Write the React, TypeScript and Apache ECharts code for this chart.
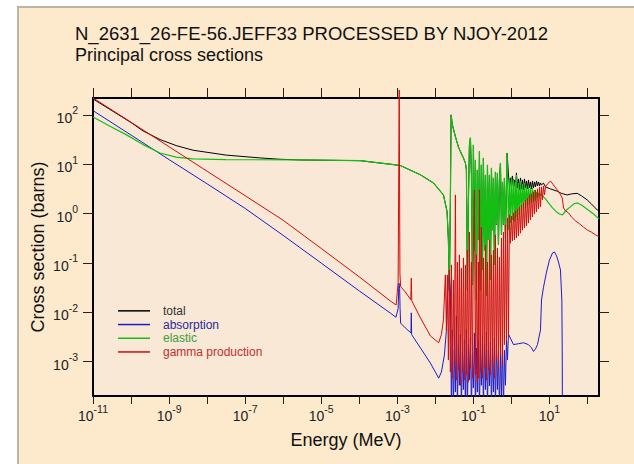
import React, { useEffect, useRef } from 'react';
import * as echarts from 'echarts';

const FONT = '"Liberation Sans", Arial, Helvetica, sans-serif';

const titleText = 'N_2631_26-FE-56.JEFF33 PROCESSED BY NJOY-2012';
const subtitleText = 'Principal cross sections';
const xName = 'Energy (MeV)';
const yName = 'Cross section (barns)';

const xRange = [1e-11, 200];
const yRange = [2e-4, 220];
const xTickExponents = [-11, -10, -9, -8, -7, -6, -5, -4, -3, -2, -1, 0, 1, 2];
const xLabelExponents = [-11, -9, -7, -5, -3, -1, 1];
const yTickExponents = [-3, -2, -1, 0, 1, 2];

const seriesNames = ['total', 'absorption', 'elastic', 'gamma production'];
const seriesColors = ['#000000', '#1c1cc8', '#12c012', '#d00c0c'];
const legendTextColors = ['#333333', '#2a2a9a', '#3aa03a', '#c03030'];

const totalLow: [number, number][] = [
  [1e-11, 211], [1e-10, 70], [2.07e-10, 47.3], [5.8e-10, 31.6], [1.53e-9, 23.9], [4.28e-9, 19.2],
  [3.16e-8, 15.3], [2.5e-7, 13.4], [8.3e-7, 12.6], [2.8e-6, 12.2], [1.06e-4, 11.8], [8e-4, 9.8],
  [1.2e-3, 9.4], [4.03e-3, 6.1], [8.86e-3, 4.18], [0.0163, 2.38],
];

const totalHigh: [number, number][] = [
  [0.834, 6.07], [0.886, 3.63], [0.941, 5.27], [1.0, 3.31], [1.06, 5.79], [1.13, 3.46], [1.2, 4.8],
  [1.27, 3.16], [1.35, 6.66], [1.44, 3.31], [1.53, 5.03], [1.62, 3.01], [1.73, 5.27], [1.83, 3.16],
  [1.95, 4.8], [2.07, 3.01], [2.2, 5.03], [2.34, 3.31], [2.48, 4.58], [2.64, 3.16], [2.8, 4.8],
  [2.98, 3.31], [3.16, 4.37], [3.36, 3.16], [3.57, 4.58], [3.79, 3.31], [4.03, 4.37], [4.28, 3.46],
  [4.55, 4.58], [4.83, 3.63], [5.14, 4.37], [5.46, 3.63], [5.8, 4.18], [6.16, 3.8], [6.95, 4.15],
  [7.85, 3.46], [10.6, 3.16], [16.0, 2.83], [20.7, 2.56], [29.2, 2.38], [37.9, 2.5], [53.5, 2.57],
  [69.5, 2.28], [98, 1.89], [127, 1.56], [180, 1.18], [200, 1.13],
];

const elastic: [number, number][] = [
  [1e-11, 91], [2.8e-11, 59], [7.4e-11, 39.8], [2.07e-10, 25], [5.8e-10, 16.9], [1.53e-9, 13.9],
  [4.28e-9, 12.8], [3.16e-8, 12.4], [2.8e-6, 12.2], [1.06e-4, 11.8], [8e-4, 9.8], [1.2e-3, 9.4],
  [4.03e-3, 6.1], [8.86e-3, 4.18], [0.0163, 2.38], [0.0203, 1.09], [0.022, 0.29], [0.0233, 0.028],
  [0.0248, 1.9], [0.0259, 100], [0.028, 62.7], [0.0336, 36.3], [0.0403, 22.4], [0.0455, 18.0],
  [0.0546, 13.4], [0.0616, 10.6], [0.0654, 7.66], [0.0695, 0.028], [0.0739, 1.89], [0.0785, 24.6],
  [0.0834, 34.2], [0.0886, 6.07], [0.0941, 0.036], [0.1, 24.6], [0.106, 0.18], [0.113, 12.2],
  [0.12, 0.0177], [0.127, 7.66], [0.135, 0.29], [0.144, 18.0], [0.153, 0.028], [0.162, 9.68],
  [0.173, 0.072], [0.183, 13.4], [0.195, 0.18], [0.207, 6.07], [0.22, 0.022], [0.234, 9.68],
  [0.248, 0.29], [0.264, 6.07], [0.28, 0.045], [0.298, 8.41], [0.316, 0.46], [0.336, 5.27],
  [0.357, 0.091], [0.379, 6.98], [0.403, 0.59], [0.428, 6.66], [0.455, 0.23], [0.483, 4.8],
  [0.514, 10.6], [0.546, 0.37], [0.58, 4.37], [0.616, 0.59], [0.654, 5.27], [0.695, 0.32],
  [0.77, 16.9], [0.834, 0.46], [0.886, 4.8], [0.941, 0.64], [1.0, 5.52], [1.06, 0.74], [1.13, 5.03],
  [1.2, 0.68], [1.27, 4.37], [1.31, 0.85], [1.35, 6.07], [1.44, 0.74], [1.53, 4.18], [1.62, 0.94],
  [1.73, 4.58], [1.83, 1.03], [1.95, 3.98], [2.07, 1.18], [2.2, 4.18], [2.34, 1.3], [2.48, 3.63],
  [2.64, 1.43], [2.8, 3.63], [2.98, 1.49], [3.16, 3.31], [3.36, 1.64], [3.57, 3.31], [3.79, 1.72],
  [4.03, 3.01], [4.28, 1.8], [4.55, 2.74], [4.83, 2.07], [5.14, 2.62], [5.46, 2.28], [5.8, 2.5],
  [6.54, 2.28], [7.85, 1.98], [9.41, 1.64], [12.0, 1.3], [15.3, 1.08], [18.3, 0.98], [22.0, 0.94],
  [28.0, 1.18], [35.7, 1.38], [45.5, 1.6], [54.6, 1.64], [69.5, 1.49], [88.6, 1.3], [113, 1.13],
  [144, 0.98], [200, 0.78],
];

const absorption: [number, number][] = [
  [1e-11, 122], [1e-10, 39], [1e-9, 12.4], [1e-8, 4.0], [1e-7, 1.27], [1e-6, 0.36], [1e-5, 0.099],
  [1e-4, 0.027], [6.55e-4, 0.0096], [9.2e-4, 0.0079], [1.05e-3, 0.012], [1.1e-3, 0.039],
  [1.15e-3, 0.03], [1.18e-3, 0.012], [1.22e-3, 0.006], [1.62e-3, 0.0048], [2.28e-3, 0.0038],
  [2.33e-3, 0.0097], [2.38e-3, 0.0035], [4.03e-3, 0.0019], [7.38e-3, 0.00093], [0.01, 0.00061],
  [0.0122, 0.00046], [0.0144, 0.00061], [0.0173, 0.00136], [0.0195, 0.0044], [0.0207, 0.0177],
  [0.022, 0.045], [0.0233, 0.062], [0.0248, 0.028], [0.0264, 1e-4], [0.028, 0.0044], [0.0298, 1e-4],
  [0.0316, 0.0017], [0.0336, 0.00024], [0.0357, 0.0084], [0.0379, 1e-4], [0.0403, 0.0022],
  [0.0428, 0.00033], [0.0455, 0.0035], [0.0483, 1e-4], [0.0514, 0.00156], [0.0546, 0.00027],
  [0.058, 0.0027], [0.0616, 1e-4], [0.0654, 0.0044], [0.0695, 1e-4], [0.0739, 0.0022],
  [0.0785, 0.00042], [0.0834, 0.003], [0.0886, 1e-4], [0.0941, 0.00136], [0.1, 0.00029],
  [0.106, 0.0038], [0.113, 1e-4], [0.12, 0.00188], [0.127, 0.00024], [0.135, 0.0027], [0.144, 1e-4],
  [0.153, 0.0017], [0.162, 0.00033], [0.173, 0.0033], [0.183, 1e-4], [0.195, 0.0022],
  [0.207, 0.00027], [0.22, 0.004], [0.234, 1e-4], [0.248, 0.0017], [0.264, 0.00032], [0.28, 0.0025],
  [0.298, 1e-4], [0.316, 0.00188], [0.336, 0.00024], [0.357, 0.003], [0.379, 1e-4], [0.403, 0.0022],
  [0.428, 0.00027], [0.455, 0.0017], [0.483, 1e-4], [0.514, 0.00156], [0.546, 0.00021],
  [0.58, 0.0022], [0.616, 1e-4], [0.654, 0.0017], [0.695, 0.00033], [0.739, 0.0027],
  [0.785, 0.00107], [0.834, 0.0036], [1.13, 0.0022], [1.53, 0.0023], [2.07, 0.0024], [2.8, 0.0022],
  [3.36, 0.0019], [3.79, 0.0016], [4.28, 0.0018], [4.83, 0.0022], [5.8, 0.0044], [6.16, 0.0177],
  [6.95, 0.032], [8.34, 0.065], [10, 0.115], [12.0, 0.159], [13.5, 0.166], [15.3, 0.139],
  [17.2, 0.104], [19.4, 0.072], [21.1, 0.0177], [21.6, 0.0017], [22, 1e-5],
];

const gamma: [number, number][] = [
  [1e-11, 221], [1e-10, 71], [1e-9, 22.6], [1e-8, 7.2], [1e-7, 2.3], [1e-6, 0.73], [1e-5, 0.196],
  [1e-4, 0.052], [6.55e-4, 0.0169], [9.3e-4, 0.014], [1.05e-3, 0.04], [1.12e-3, 320], [1.17e-3, 0.06],
  [1.22e-3, 0.033], [1.62e-3, 0.0257], [2.25e-3, 0.018], [2.33e-3, 0.049], [2.4e-3, 0.017],
  [4.03e-3, 0.0077], [6.05e-3, 0.0044], [7.38e-3, 0.0033], [0.0122, 0.0024], [0.0144, 0.0035],
  [0.0163, 0.007], [0.0183, 0.057], [0.0195, 0.0044], [0.0207, 0.057], [0.022, 0.00107],
  [0.0233, 0.072], [0.0248, 0.00061], [0.0264, 0.091], [0.028, 0.00046], [0.0298, 0.045],
  [0.0316, 0.00085], [0.0336, 2.38], [0.0357, 0.00042], [0.0379, 0.104], [0.0403, 0.00067],
  [0.0428, 0.145], [0.0455, 0.00033], [0.0483, 0.079], [0.0514, 0.00061], [0.0546, 0.126],
  [0.058, 0.00042], [0.0616, 0.091], [0.0654, 0.00053], [0.0695, 0.18], [0.0739, 0.00038],
  [0.0785, 0.42], [0.0834, 0.00074], [0.0886, 0.104], [0.0941, 0.00046], [0.1, 0.29], [0.106, 3.01],
  [0.113, 0.00053], [0.12, 0.145], [0.127, 0.00038], [0.135, 0.104], [0.139, 0.00046], [0.144, 3.01],
  [0.153, 0.00061], [0.162, 0.53], [0.173, 0.00046], [0.183, 0.126], [0.195, 0.00074], [0.207, 0.23],
  [0.22, 0.00042], [0.234, 0.104], [0.248, 0.00067], [0.264, 0.29], [0.28, 0.00053], [0.298, 0.145],
  [0.316, 0.00085], [0.336, 0.18], [0.357, 0.00046], [0.379, 0.37], [0.403, 0.00107], [0.428, 0.2],
  [0.455, 0.00067], [0.483, 0.13], [0.514, 0.00136], [0.546, 0.32], [0.58, 0.00085], [0.616, 0.42],
  [0.654, 0.0022], [0.695, 0.59], [0.739, 0.0027], [0.785, 0.81], [0.834, 0.0035], [0.886, 0.94],
  [0.941, 0.25], [1.0, 0.89], [1.06, 0.28], [1.13, 1.03], [1.2, 0.29], [1.27, 1.13], [1.35, 0.32],
  [1.44, 1.24], [1.53, 0.35], [1.62, 1.36], [1.73, 0.4], [1.83, 1.49], [1.95, 0.46], [2.07, 1.64],
  [2.2, 0.51], [2.34, 1.89], [2.48, 0.56], [2.64, 2.07], [2.8, 0.64], [2.98, 2.38], [3.16, 0.74],
  [3.36, 2.5], [3.57, 0.85], [3.79, 2.74], [4.03, 0.98], [4.28, 3.01], [4.55, 1.08], [4.83, 3.16],
  [5.14, 1.24], [5.46, 3.46], [5.8, 1.36], [6.16, 3.46], [6.54, 1.89], [6.95, 3.63], [7.39, 2.38],
  [7.85, 3.51], [8.86, 3.98], [10.6, 4.58], [12.7, 3.8], [16.0, 3.01], [18.3, 2.62], [21.6, 2.07],
  [23.4, 1.3], [26.4, 1.13], [31.6, 1.03], [37.9, 0.85], [48.3, 0.71], [61.5, 0.62], [78.5, 0.53],
  [100, 0.46], [127, 0.42], [162, 0.37], [200, 0.34],
];

export default function App() {
  const ref = useRef<HTMLDivElement>(null);

  useEffect(() => {
    if (!ref.current) return;
    const chart = echarts.init(ref.current, null, { renderer: 'svg' });

    const total = [
      ...totalLow,
      ...elastic.filter(([e]) => e > 0.0165 && e < 0.8),
      ...totalHigh,
    ];
    const dataSets = [total, absorption, elastic, gamma];
    const widths = [1, 1, 1.2, 1];
    const clips = [true, true, true, false];

    const pow = (n: number) => Math.pow(10, n);
    const xTicks = xTickExponents.map(pow);
    const xLabels = xLabelExponents.map(pow);
    const yTicks = yTickExponents.map(pow);

    const expFormatter = (v: number) => `{b|10}{s|${Math.round(Math.log10(v))}}`;
    const rich = {
      b: { fontSize: 14, lineHeight: 20, verticalAlign: 'bottom', fontFamily: FONT, color: '#222' },
      s: { fontSize: 10.5, lineHeight: 14, verticalAlign: 'top', fontFamily: FONT, color: '#222' },
    };
    const axisLine = { show: true, lineStyle: { color: '#000', width: 2 } };
    const tickStyle = { color: '#222', width: 1 };

    const option: any = {
      animation: false,
      backgroundColor: '#ffffff',
      graphic: [
        {
          type: 'rect',
          z: -10,
          shape: { x: 18, y: 7, width: 640, height: 480 },
          style: { fill: '#fde9cc', stroke: '#bdb4a8', lineWidth: 2 },
        },
        {
          type: 'text',
          x: 75,
          y: 33.5,
          style: {
            text: titleText,
            fontSize: 18.5,
            fontFamily: FONT,
            fill: '#111',
            verticalAlign: 'middle',
          },
        },
        {
          type: 'text',
          x: 75,
          y: 54.5,
          style: {
            text: subtitleText,
            fontSize: 18,
            fontFamily: FONT,
            fill: '#111',
            verticalAlign: 'middle',
          },
        },
      ],
      grid: {
        show: true,
        left: 93,
        top: 98,
        width: 506,
        height: 298,
        backgroundColor: '#f9e8d6',
        borderWidth: 0,
        containLabel: false,
      },
      legend: {
        orient: 'vertical',
        left: 113,
        top: 299,
        itemWidth: 32,
        itemHeight: 1.5,
        itemGap: 0,
        icon: 'rect',
        selectedMode: false,
        formatter: (name: string) => `{g|}${name}`,
        textStyle: {
          fontSize: 12,
          lineHeight: 13.7,
          fontFamily: FONT,
          rich: { g: { width: 8 } },
        },
        data: seriesNames.map((name, i) => ({ name, textStyle: { color: legendTextColors[i] } })),
      },
      xAxis: [
        {
          type: 'log',
          logBase: 10,
          min: xRange[0],
          max: xRange[1],
          position: 'bottom',
          name: xName,
          nameLocation: 'middle',
          nameGap: 35,
          nameMoveOverlap: false,
          nameTextStyle: { fontSize: 18, fontFamily: FONT, color: '#111' },
          axisLine,
          axisTick: { show: true, customValues: xTicks, length: 8, lineStyle: tickStyle },
          axisLabel: { customValues: xLabels, formatter: expFormatter, rich, margin: 7 },
          splitLine: { show: false },
          minorTick: { show: false },
        },
        {
          type: 'log',
          logBase: 10,
          min: xRange[0],
          max: xRange[1],
          position: 'top',
          axisLine,
          axisTick: { show: true, customValues: xTicks, length: 10, lineStyle: tickStyle },
          axisLabel: { show: false },
          splitLine: { show: false },
        },
      ],
      yAxis: [
        {
          type: 'log',
          logBase: 10,
          min: yRange[0],
          max: yRange[1],
          position: 'left',
          name: yName,
          nameLocation: 'middle',
          nameGap: 46,
          nameMoveOverlap: false,
          nameRotate: 90,
          nameTextStyle: { fontSize: 18, fontFamily: FONT, color: '#111' },
          axisLine,
          axisTick: { show: true, customValues: yTicks, length: 10, lineStyle: tickStyle },
          axisLabel: { customValues: yTicks, formatter: expFormatter, rich, margin: 15 },
          splitLine: { show: false },
        },
        {
          type: 'log',
          logBase: 10,
          min: yRange[0],
          max: yRange[1],
          position: 'right',
          axisLine,
          axisTick: { show: true, customValues: yTicks, length: 10, lineStyle: tickStyle },
          axisLabel: { show: false },
          splitLine: { show: false },
        },
      ],
      series: seriesNames.map((name, i) => ({
        name,
        type: 'line',
        xAxisIndex: 0,
        yAxisIndex: 0,
        data: dataSets[i],
        showSymbol: false,
        symbol: 'none',
        color: seriesColors[i],
        lineStyle: { width: widths[i], color: seriesColors[i] },
        silent: true,
        clip: clips[i],
        emphasis: { disabled: true },
        z: 2 + i,
      })),
    };

    chart.setOption(option);
    return () => chart.dispose();
  }, []);

  return (
    <div
      ref={ref}
      style={{ position: 'fixed', left: 0, top: 0, width: 634, height: 464 }}
    />
  );
}
